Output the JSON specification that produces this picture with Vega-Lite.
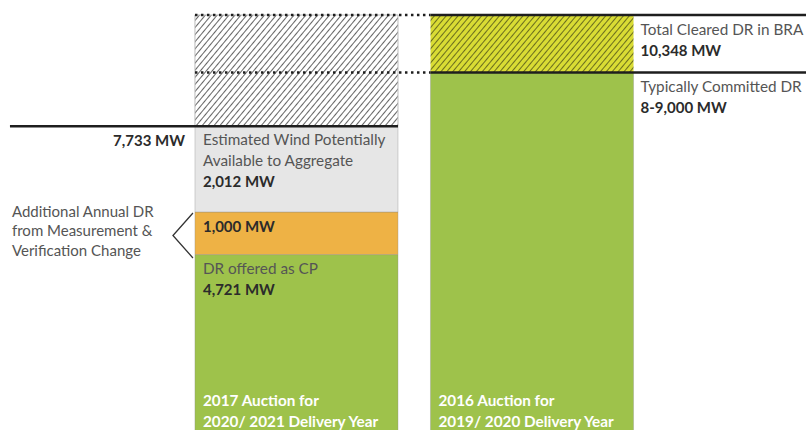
{
"$schema":"https://vega.github.io/schema/vega-lite/v6.json",
"width":806,"height":430,"autosize":{"type":"none"},"padding":0,"background":"white",
"config":{"view":{"stroke":null},"font":"Lato"},
"datasets":{
"segments":[
{"col":"2017","seg":"DR offered as CP","lo":0,"hi":4721},
{"col":"2017","seg":"Additional annual DR from M&V change","lo":4721,"hi":5721},
{"col":"2017","seg":"Estimated wind potentially available","lo":5721,"hi":7733},
{"col":"2017","seg":"Gap to total cleared","lo":7733,"hi":10348},
{"col":"2016","seg":"Typically committed DR","lo":0,"hi":9000},
{"col":"2016","seg":"Cleared above typical","lo":9000,"hi":10348}
],
"levels":[
{"level":"Total cleared DR in BRA","v":10348},
{"level":"Typically committed DR","v":9000},
{"level":"2017 potential total","v":7733}
]
},
"layer":[
{"data":{"name":"segments"},
"transform":[{"filter":"datum.seg !== 'Gap to total cleared' && datum.seg !== 'Cleared above typical'"}],
"mark":{"type":"bar","clip":true,"stroke":"#8a8a8a","strokeWidth":0.7,"strokeOpacity":0.5},
"encoding":{
"x":{"field":"col","type":"nominal","scale":{"domain":["2017","2016"],"paddingInner":0.138,"paddingOuter":0.78,"align":0.5306},"axis":null},
"y":{"field":"hi","type":"quantitative","scale":{"domain":[600,10700],"nice":false,"zero":false},"axis":null},
"y2":{"field":"lo"},
"color":{"field":"seg","type":"nominal","scale":{"domain":["DR offered as CP","Additional annual DR from M&V change","Estimated wind potentially available","Typically committed DR"],"range":["#9ec24b","#eeb245","#e6e6e6","#9ec24b"]},"legend":null}
}},
{"data":{"name":"segments"},
"transform":[{"filter":"datum.seg === 'Gap to total cleared'"}],
"mark":{"type":"bar","clip":true,"stroke":"#bbbbbb","strokeWidth":1,
"fill":{"gradient":"linear","x1":0,"y1":0,"x2":1.205,"y2":0.549,"stops":[
{"offset":0,"color":"#fff"},{"offset":0.011,"color":"#fff"},{"offset":0.0155,"color":"#666"},
{"offset":0.02,"color":"#fff"},{"offset":0.031,"color":"#fff"},{"offset":0.0355,"color":"#666"},
{"offset":0.04,"color":"#fff"},{"offset":0.051,"color":"#fff"},{"offset":0.0555,"color":"#666"},
{"offset":0.06,"color":"#fff"},{"offset":0.071,"color":"#fff"},{"offset":0.0755,"color":"#666"},
{"offset":0.08,"color":"#fff"},{"offset":0.091,"color":"#fff"},{"offset":0.0955,"color":"#666"},
{"offset":0.1,"color":"#fff"},{"offset":0.111,"color":"#fff"},{"offset":0.1155,"color":"#666"},
{"offset":0.12,"color":"#fff"},{"offset":0.131,"color":"#fff"},{"offset":0.1355,"color":"#666"},
{"offset":0.14,"color":"#fff"},{"offset":0.151,"color":"#fff"},{"offset":0.1555,"color":"#666"},
{"offset":0.16,"color":"#fff"},{"offset":0.171,"color":"#fff"},{"offset":0.1755,"color":"#666"},
{"offset":0.18,"color":"#fff"},{"offset":0.191,"color":"#fff"},{"offset":0.1955,"color":"#666"},
{"offset":0.2,"color":"#fff"},{"offset":0.211,"color":"#fff"},{"offset":0.2155,"color":"#666"},
{"offset":0.22,"color":"#fff"},{"offset":0.231,"color":"#fff"},{"offset":0.2355,"color":"#666"},
{"offset":0.24,"color":"#fff"},{"offset":0.251,"color":"#fff"},{"offset":0.2555,"color":"#666"},
{"offset":0.26,"color":"#fff"},{"offset":0.271,"color":"#fff"},{"offset":0.2755,"color":"#666"},
{"offset":0.28,"color":"#fff"},{"offset":0.291,"color":"#fff"},{"offset":0.2955,"color":"#666"},
{"offset":0.3,"color":"#fff"},{"offset":0.311,"color":"#fff"},{"offset":0.3155,"color":"#666"},
{"offset":0.32,"color":"#fff"},{"offset":0.331,"color":"#fff"},{"offset":0.3355,"color":"#666"},
{"offset":0.34,"color":"#fff"},{"offset":0.351,"color":"#fff"},{"offset":0.3555,"color":"#666"},
{"offset":0.36,"color":"#fff"},{"offset":0.371,"color":"#fff"},{"offset":0.3755,"color":"#666"},
{"offset":0.38,"color":"#fff"},{"offset":0.391,"color":"#fff"},{"offset":0.3955,"color":"#666"},
{"offset":0.4,"color":"#fff"},{"offset":0.411,"color":"#fff"},{"offset":0.4155,"color":"#666"},
{"offset":0.42,"color":"#fff"},{"offset":0.431,"color":"#fff"},{"offset":0.4355,"color":"#666"},
{"offset":0.44,"color":"#fff"},{"offset":0.451,"color":"#fff"},{"offset":0.4555,"color":"#666"},
{"offset":0.46,"color":"#fff"},{"offset":0.471,"color":"#fff"},{"offset":0.4755,"color":"#666"},
{"offset":0.48,"color":"#fff"},{"offset":0.491,"color":"#fff"},{"offset":0.4955,"color":"#666"},
{"offset":0.5,"color":"#fff"},{"offset":0.511,"color":"#fff"},{"offset":0.5155,"color":"#666"},
{"offset":0.52,"color":"#fff"},{"offset":0.531,"color":"#fff"},{"offset":0.5355,"color":"#666"},
{"offset":0.54,"color":"#fff"},{"offset":0.551,"color":"#fff"},{"offset":0.5555,"color":"#666"},
{"offset":0.56,"color":"#fff"},{"offset":0.571,"color":"#fff"},{"offset":0.5755,"color":"#666"},
{"offset":0.58,"color":"#fff"},{"offset":0.591,"color":"#fff"},{"offset":0.5955,"color":"#666"},
{"offset":0.6,"color":"#fff"},{"offset":0.611,"color":"#fff"},{"offset":0.6155,"color":"#666"},
{"offset":0.62,"color":"#fff"},{"offset":0.631,"color":"#fff"},{"offset":0.6355,"color":"#666"},
{"offset":0.64,"color":"#fff"},{"offset":0.651,"color":"#fff"},{"offset":0.6555,"color":"#666"},
{"offset":0.66,"color":"#fff"},{"offset":0.671,"color":"#fff"},{"offset":0.6755,"color":"#666"},
{"offset":0.68,"color":"#fff"},{"offset":0.691,"color":"#fff"},{"offset":0.6955,"color":"#666"},
{"offset":0.7,"color":"#fff"},{"offset":0.711,"color":"#fff"},{"offset":0.7155,"color":"#666"},
{"offset":0.72,"color":"#fff"},{"offset":0.731,"color":"#fff"},{"offset":0.7355,"color":"#666"},
{"offset":0.74,"color":"#fff"},{"offset":0.751,"color":"#fff"},{"offset":0.7555,"color":"#666"},
{"offset":0.76,"color":"#fff"},{"offset":0.771,"color":"#fff"},{"offset":0.7755,"color":"#666"},
{"offset":0.78,"color":"#fff"},{"offset":0.791,"color":"#fff"},{"offset":0.7955,"color":"#666"},
{"offset":0.8,"color":"#fff"},{"offset":0.811,"color":"#fff"},{"offset":0.8155,"color":"#666"},
{"offset":0.82,"color":"#fff"},{"offset":0.831,"color":"#fff"},{"offset":0.8355,"color":"#666"},
{"offset":0.84,"color":"#fff"},{"offset":0.851,"color":"#fff"},{"offset":0.8555,"color":"#666"},
{"offset":0.86,"color":"#fff"},{"offset":0.871,"color":"#fff"},{"offset":0.8755,"color":"#666"},
{"offset":0.88,"color":"#fff"},{"offset":0.891,"color":"#fff"},{"offset":0.8955,"color":"#666"},
{"offset":0.9,"color":"#fff"},{"offset":0.911,"color":"#fff"},{"offset":0.9155,"color":"#666"},
{"offset":0.92,"color":"#fff"},{"offset":0.931,"color":"#fff"},{"offset":0.9355,"color":"#666"},
{"offset":0.94,"color":"#fff"},{"offset":0.951,"color":"#fff"},{"offset":0.9555,"color":"#666"},
{"offset":0.96,"color":"#fff"},{"offset":0.971,"color":"#fff"},{"offset":0.9755,"color":"#666"},
{"offset":0.98,"color":"#fff"},{"offset":0.991,"color":"#fff"},{"offset":0.9955,"color":"#666"},
{"offset":1,"color":"#fff"}]}},
"encoding":{"x":{"field":"col","type":"nominal"},"y":{"field":"hi","type":"quantitative"},"y2":{"field":"lo"}}},
{"data":{"name":"segments"},
"transform":[{"filter":"datum.seg === 'Cleared above typical'"}],
"mark":{"type":"bar","clip":true,
"fill":{"gradient":"linear","x1":0,"y1":0,"x2":1.378,"y2":0.325,"stops":[
{"offset":0,"color":"#d9dc34"},{"offset":0.011,"color":"#d9dc34"},{"offset":0.0155,"color":"#6b6e1e"},
{"offset":0.02,"color":"#d9dc34"},{"offset":0.031,"color":"#d9dc34"},{"offset":0.0355,"color":"#6b6e1e"},
{"offset":0.04,"color":"#d9dc34"},{"offset":0.051,"color":"#d9dc34"},{"offset":0.0555,"color":"#6b6e1e"},
{"offset":0.06,"color":"#d9dc34"},{"offset":0.071,"color":"#d9dc34"},{"offset":0.0755,"color":"#6b6e1e"},
{"offset":0.08,"color":"#d9dc34"},{"offset":0.091,"color":"#d9dc34"},{"offset":0.0955,"color":"#6b6e1e"},
{"offset":0.1,"color":"#d9dc34"},{"offset":0.111,"color":"#d9dc34"},{"offset":0.1155,"color":"#6b6e1e"},
{"offset":0.12,"color":"#d9dc34"},{"offset":0.131,"color":"#d9dc34"},{"offset":0.1355,"color":"#6b6e1e"},
{"offset":0.14,"color":"#d9dc34"},{"offset":0.151,"color":"#d9dc34"},{"offset":0.1555,"color":"#6b6e1e"},
{"offset":0.16,"color":"#d9dc34"},{"offset":0.171,"color":"#d9dc34"},{"offset":0.1755,"color":"#6b6e1e"},
{"offset":0.18,"color":"#d9dc34"},{"offset":0.191,"color":"#d9dc34"},{"offset":0.1955,"color":"#6b6e1e"},
{"offset":0.2,"color":"#d9dc34"},{"offset":0.211,"color":"#d9dc34"},{"offset":0.2155,"color":"#6b6e1e"},
{"offset":0.22,"color":"#d9dc34"},{"offset":0.231,"color":"#d9dc34"},{"offset":0.2355,"color":"#6b6e1e"},
{"offset":0.24,"color":"#d9dc34"},{"offset":0.251,"color":"#d9dc34"},{"offset":0.2555,"color":"#6b6e1e"},
{"offset":0.26,"color":"#d9dc34"},{"offset":0.271,"color":"#d9dc34"},{"offset":0.2755,"color":"#6b6e1e"},
{"offset":0.28,"color":"#d9dc34"},{"offset":0.291,"color":"#d9dc34"},{"offset":0.2955,"color":"#6b6e1e"},
{"offset":0.3,"color":"#d9dc34"},{"offset":0.311,"color":"#d9dc34"},{"offset":0.3155,"color":"#6b6e1e"},
{"offset":0.32,"color":"#d9dc34"},{"offset":0.331,"color":"#d9dc34"},{"offset":0.3355,"color":"#6b6e1e"},
{"offset":0.34,"color":"#d9dc34"},{"offset":0.351,"color":"#d9dc34"},{"offset":0.3555,"color":"#6b6e1e"},
{"offset":0.36,"color":"#d9dc34"},{"offset":0.371,"color":"#d9dc34"},{"offset":0.3755,"color":"#6b6e1e"},
{"offset":0.38,"color":"#d9dc34"},{"offset":0.391,"color":"#d9dc34"},{"offset":0.3955,"color":"#6b6e1e"},
{"offset":0.4,"color":"#d9dc34"},{"offset":0.411,"color":"#d9dc34"},{"offset":0.4155,"color":"#6b6e1e"},
{"offset":0.42,"color":"#d9dc34"},{"offset":0.431,"color":"#d9dc34"},{"offset":0.4355,"color":"#6b6e1e"},
{"offset":0.44,"color":"#d9dc34"},{"offset":0.451,"color":"#d9dc34"},{"offset":0.4555,"color":"#6b6e1e"},
{"offset":0.46,"color":"#d9dc34"},{"offset":0.471,"color":"#d9dc34"},{"offset":0.4755,"color":"#6b6e1e"},
{"offset":0.48,"color":"#d9dc34"},{"offset":0.491,"color":"#d9dc34"},{"offset":0.4955,"color":"#6b6e1e"},
{"offset":0.5,"color":"#d9dc34"},{"offset":0.511,"color":"#d9dc34"},{"offset":0.5155,"color":"#6b6e1e"},
{"offset":0.52,"color":"#d9dc34"},{"offset":0.531,"color":"#d9dc34"},{"offset":0.5355,"color":"#6b6e1e"},
{"offset":0.54,"color":"#d9dc34"},{"offset":0.551,"color":"#d9dc34"},{"offset":0.5555,"color":"#6b6e1e"},
{"offset":0.56,"color":"#d9dc34"},{"offset":0.571,"color":"#d9dc34"},{"offset":0.5755,"color":"#6b6e1e"},
{"offset":0.58,"color":"#d9dc34"},{"offset":0.591,"color":"#d9dc34"},{"offset":0.5955,"color":"#6b6e1e"},
{"offset":0.6,"color":"#d9dc34"},{"offset":0.611,"color":"#d9dc34"},{"offset":0.6155,"color":"#6b6e1e"},
{"offset":0.62,"color":"#d9dc34"},{"offset":0.631,"color":"#d9dc34"},{"offset":0.6355,"color":"#6b6e1e"},
{"offset":0.64,"color":"#d9dc34"},{"offset":0.651,"color":"#d9dc34"},{"offset":0.6555,"color":"#6b6e1e"},
{"offset":0.66,"color":"#d9dc34"},{"offset":0.671,"color":"#d9dc34"},{"offset":0.6755,"color":"#6b6e1e"},
{"offset":0.68,"color":"#d9dc34"},{"offset":0.691,"color":"#d9dc34"},{"offset":0.6955,"color":"#6b6e1e"},
{"offset":0.7,"color":"#d9dc34"},{"offset":0.711,"color":"#d9dc34"},{"offset":0.7155,"color":"#6b6e1e"},
{"offset":0.72,"color":"#d9dc34"},{"offset":0.731,"color":"#d9dc34"},{"offset":0.7355,"color":"#6b6e1e"},
{"offset":0.74,"color":"#d9dc34"},{"offset":0.751,"color":"#d9dc34"},{"offset":0.7555,"color":"#6b6e1e"},
{"offset":0.76,"color":"#d9dc34"},{"offset":0.771,"color":"#d9dc34"},{"offset":0.7755,"color":"#6b6e1e"},
{"offset":0.78,"color":"#d9dc34"},{"offset":0.791,"color":"#d9dc34"},{"offset":0.7955,"color":"#6b6e1e"},
{"offset":0.8,"color":"#d9dc34"},{"offset":0.811,"color":"#d9dc34"},{"offset":0.8155,"color":"#6b6e1e"},
{"offset":0.82,"color":"#d9dc34"},{"offset":0.831,"color":"#d9dc34"},{"offset":0.8355,"color":"#6b6e1e"},
{"offset":0.84,"color":"#d9dc34"},{"offset":0.851,"color":"#d9dc34"},{"offset":0.8555,"color":"#6b6e1e"},
{"offset":0.86,"color":"#d9dc34"},{"offset":0.871,"color":"#d9dc34"},{"offset":0.8755,"color":"#6b6e1e"},
{"offset":0.88,"color":"#d9dc34"},{"offset":0.891,"color":"#d9dc34"},{"offset":0.8955,"color":"#6b6e1e"},
{"offset":0.9,"color":"#d9dc34"},{"offset":0.911,"color":"#d9dc34"},{"offset":0.9155,"color":"#6b6e1e"},
{"offset":0.92,"color":"#d9dc34"},{"offset":0.931,"color":"#d9dc34"},{"offset":0.9355,"color":"#6b6e1e"},
{"offset":0.94,"color":"#d9dc34"},{"offset":0.951,"color":"#d9dc34"},{"offset":0.9555,"color":"#6b6e1e"},
{"offset":0.96,"color":"#d9dc34"},{"offset":0.971,"color":"#d9dc34"},{"offset":0.9755,"color":"#6b6e1e"},
{"offset":0.98,"color":"#d9dc34"},{"offset":0.991,"color":"#d9dc34"},{"offset":0.9955,"color":"#6b6e1e"},
{"offset":1,"color":"#d9dc34"}]}},
"encoding":{"x":{"field":"col","type":"nominal"},"y":{"field":"hi","type":"quantitative"},"y2":{"field":"lo"}}},
{"data":{"name":"levels"},
"transform":[{"filter":"datum.v === 7733"}],
"mark":{"type":"rule","stroke":"#1e1e1e","strokeWidth":2.5,"xOffset":-185},
"encoding":{"x":{"datum":"2017","bandPosition":0},"x2":{"datum":"2017","bandPosition":1},"y":{"field":"v","type":"quantitative"}}},
{"data":{"name":"levels"},
"transform":[{"filter":"datum.v >= 9000"}],
"mark":{"type":"rule","stroke":"#1e1e1e","strokeWidth":2.5,"strokeDash":[2.5,3.5]},
"encoding":{"x":{"datum":"2017","bandPosition":0},"x2":{"datum":"2016","bandPosition":0},"y":{"field":"v","type":"quantitative"}}},
{"data":{"name":"levels"},
"transform":[{"filter":"datum.v >= 9000"}],
"mark":{"type":"rule","stroke":"#1e1e1e","strokeWidth":2.5,"x2Offset":175},
"encoding":{"x":{"datum":"2016","bandPosition":0},"x2":{"datum":"2016","bandPosition":1},"y":{"field":"v","type":"quantitative"}}},
{"data":{"name":"segments"},
"transform":[{"filter":"datum.seg === 'Additional annual DR from M&V change'"}],
"mark":{"type":"point","shape":"M0.444,-1L-0.444,0L0.444,1","size":2025,"filled":false,"stroke":"#333333","strokeWidth":1.3,"opacity":1,"xOffset":-12,"yOffset":23.5},
"encoding":{"x":{"datum":"2017","bandPosition":0},"y":{"field":"hi","type":"quantitative"}}},
{"data":{"values":[{"label":"7,733 MW","v":7733}]},
"mark":{"type":"text","align":"right","baseline":"top","dx":-10,"dy":8,"fontSize":15,"fontWeight":"bold","color":"#2b2b2b"},
"encoding":{"x":{"datum":"2017","bandPosition":0},"y":{"field":"v","type":"quantitative"},"text":{"field":"label"}}},
{"data":{"values":[{"label":"Additional Annual DR\nfrom  Measurement &\nVerification Change","v":5721}]},
"mark":{"type":"text","align":"left","baseline":"top","dx":-183,"dy":-7,"fontSize":15,"lineHeight":19.5,"lineBreak":"\n","color":"#555555"},
"encoding":{"x":{"datum":"2017","bandPosition":0},"y":{"field":"v","type":"quantitative"},"text":{"field":"label"}}},
{"data":{"values":[
{"label":"Estimated Wind Potentially\nAvailable to Aggregate","v":7733,"col":"2017"},
{"label":"DR offered as CP","v":4721,"col":"2017"}]},
"mark":{"type":"text","align":"left","baseline":"top","dx":8,"dy":7,"fontSize":15.3,"lineHeight":21,"lineBreak":"\n","color":"#555555"},
"encoding":{"x":{"field":"col","type":"nominal","bandPosition":0},"y":{"field":"v","type":"quantitative"},"text":{"field":"label"}}},
{"data":{"values":[
{"label":"2,012 MW","v":7733,"col":"2017"}]},
"mark":{"type":"text","align":"left","baseline":"top","dx":8,"dy":49,"fontSize":15,"fontWeight":"bold","color":"#2b2b2b"},
"encoding":{"x":{"field":"col","type":"nominal","bandPosition":0},"y":{"field":"v","type":"quantitative"},"text":{"field":"label"}}},
{"data":{"values":[
{"label":"1,000 MW","v":5721,"col":"2017"}]},
"mark":{"type":"text","align":"left","baseline":"top","dx":8,"dy":8,"fontSize":15,"fontWeight":"bold","color":"#2b2b2b"},
"encoding":{"x":{"field":"col","type":"nominal","bandPosition":0},"y":{"field":"v","type":"quantitative"},"text":{"field":"label"}}},
{"data":{"values":[
{"label":"4,721 MW","v":4721,"col":"2017"}]},
"mark":{"type":"text","align":"left","baseline":"top","dx":8,"dy":28,"fontSize":15,"fontWeight":"bold","color":"#2b2b2b"},
"encoding":{"x":{"field":"col","type":"nominal","bandPosition":0},"y":{"field":"v","type":"quantitative"},"text":{"field":"label"}}},
{"data":{"values":[
{"label":"2017 Auction for\n2020/ 2021 Delivery Year","v":0,"col":"2017"},
{"label":"2016 Auction for\n2019/ 2020 Delivery Year","v":0,"col":"2016"}]},
"mark":{"type":"text","align":"left","baseline":"bottom","dx":8,"dy":-47,"fontSize":15.3,"fontWeight":"bold","lineHeight":21,"lineBreak":"\n","color":"#ffffff"},
"encoding":{"x":{"field":"col","type":"nominal","bandPosition":0},"y":{"field":"v","type":"quantitative"},"text":{"field":"label"}}},
{"data":{"values":[
{"label":"Total Cleared DR in BRA","v":10348,"col":"2016"},
{"label":"Typically Committed DR","v":9000,"col":"2016"}]},
"mark":{"type":"text","align":"left","baseline":"top","dx":7,"dy":8,"fontSize":15.3,"color":"#555555"},
"encoding":{"x":{"field":"col","type":"nominal","bandPosition":1},"y":{"field":"v","type":"quantitative"},"text":{"field":"label"}}},
{"data":{"values":[
{"label":"10,348 MW","v":10348,"col":"2016"},
{"label":"8-9,000 MW","v":9000,"col":"2016"}]},
"mark":{"type":"text","align":"left","baseline":"top","dx":7,"dy":29,"fontSize":15,"fontWeight":"bold","color":"#2b2b2b"},
"encoding":{"x":{"field":"col","type":"nominal","bandPosition":1},"y":{"field":"v","type":"quantitative"},"text":{"field":"label"}}}
]
}
